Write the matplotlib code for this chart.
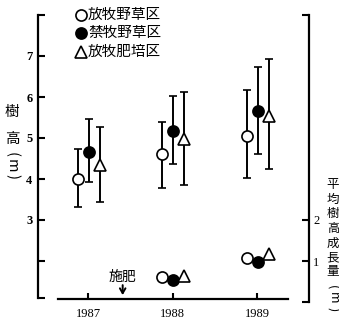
import numpy as np
import matplotlib
matplotlib.use("Agg")
import matplotlib.pyplot as plt
from matplotlib.lines import Line2D

plt.rcParams['font.family'] = ['Noto Sans CJK JP', 'DejaVu Sans']

years = [1987, 1988, 1989]
groups = ['放牧野草区', '禁牧野草区', '放牧肥培区']

# tree height (m): mean, top and bottom of the bars
height_mean = [[4.00, 4.61, 5.06], [4.66, 5.17, 5.66], [4.34, 4.98, 5.54]]
height_hi = [[4.73, 5.39, 6.17], [5.46, 6.02, 6.73], [5.27, 6.12, 6.93]]
height_lo = [[3.32, 3.78, 4.02], [3.93, 4.37, 4.61], [3.44, 3.85, 4.24]]

# mean annual height growth (m)
growth_years = [1988, 1989]
growth = [[0.61, 1.07], [0.54, 0.98], [0.63, 1.16]]

fert_year = 1987.41

W, H = 339, 323
markers = ['o', 'o', '^']
faces = ['white', 'black', 'white']
offsets = [-0.12, 0.01, 0.14]


def px(x, y):
    return x / W, 1 - y / H


fig = plt.figure(figsize=(W / 100, H / 100), dpi=100)
ax = fig.add_axes([38 / W, (H - 302) / H, (309 - 38) / W, (302 - 15) / H])
ax.set_xlim(1986.408, 1989.615)
ax.set_ylim(1, 8)

for i in range(3):
    x = np.array(years) + offsets[i]
    m = np.array(height_mean[i])
    yerr = [m - np.array(height_lo[i]), np.array(height_hi[i]) - m]
    ax.errorbar(x, m, yerr=yerr, fmt=markers[i], mfc=faces[i], mec='black',
                ecolor='black', elinewidth=1.4, capsize=3, capthick=1.4,
                ms=8, mew=1.2, zorder=3)

serif = 'Liberation Serif'
for s in ['top', 'right']:
    ax.spines[s].set_visible(False)
ax.spines['left'].set_bounds(1.1, 8)
ax.spines['left'].set_linewidth(1.6)
ax.spines['bottom'].set_position(('data', 1.08))
ax.spines['bottom'].set_bounds(1986.64, 1989.37)
ax.spines['bottom'].set_linewidth(1.6)
ax.set_yticks([1.1, 2, 3, 4, 5, 6, 7, 8])
ax.set_yticklabels(['', '', '3', '4', '5', '6', '7', ''], family=serif,
                   fontsize=9, fontweight='bold')
ax.tick_params(axis='y', direction='in', length=5, width=1.5, pad=4)
ax.set_xticks(years)
ax.set_xticklabels([str(y) for y in years], family=serif, fontsize=9)
ax.tick_params(axis='x', direction='in', length=4, width=1.5, pad=7)

ax2 = ax.twinx()
ax2.set_ylim(0, 7)
for s in ['top', 'left', 'bottom']:
    ax2.spines[s].set_visible(False)
ax2.spines['right'].set_bounds(0, 7)
ax2.spines['right'].set_linewidth(1.6)
ax2.set_yticks([0, 1, 2, 7])
ax2.set_yticklabels(['', '1', '2', ''], family=serif, fontsize=9)
ax2.tick_params(axis='y', direction='in', length=5, width=1.5, pad=3)

for i in range(3):
    x = np.array(growth_years) + offsets[i]
    ax2.plot(x, growth[i], markers[i], mfc=faces[i], mec='black',
             ms=8, mew=1.2, linestyle='none', clip_on=False)

# fertilization arrow
ax.annotate('', xy=(fert_year, 1.1), xytext=(fert_year, 1.48),
            arrowprops=dict(arrowstyle='->,head_length=0.35,head_width=0.2',
                            color='black', lw=1.4))
ax.text(fert_year, 1.62, '施肥', ha='center', va='center', fontsize=10)

# legend
for i, (g, mk, fc) in enumerate(zip(groups, markers, faces)):
    yy = [15, 33, 52][i]
    fig.add_artist(Line2D([81 / W], [1 - yy / H], marker=mk, mfc=fc, mec='black',
                          ms=8, mew=1.2, linestyle='none',
                          transform=fig.transFigure))
    fig.text(*px(88, yy), g, ha='left', va='center', fontsize=10.5)

# left label, written vertically
for ch, yy in zip(['樹', '高', '(', 'm', ')'], [112, 139, 155, 166, 177]):
    rot = -90 if ch in '(m)' else 0
    fig.text(*px(12, yy), ch, ha='center', va='center', fontsize=10.5,
             rotation=rot)

# right label, written vertically
right_chars = ['平', '均', '樹', '高', '成', '長', '量', '(', 'm', ')']
right_y = [185, 199.5, 214, 228.5, 243, 257.5, 272, 287, 298, 309]
for ch, yy in zip(right_chars, right_y):
    rot = -90 if ch in '(m)' else 0
    fig.text(*px(333, yy), ch, ha='center', va='center', fontsize=9,
             rotation=rot)

fig.savefig('out.png', dpi=100)
